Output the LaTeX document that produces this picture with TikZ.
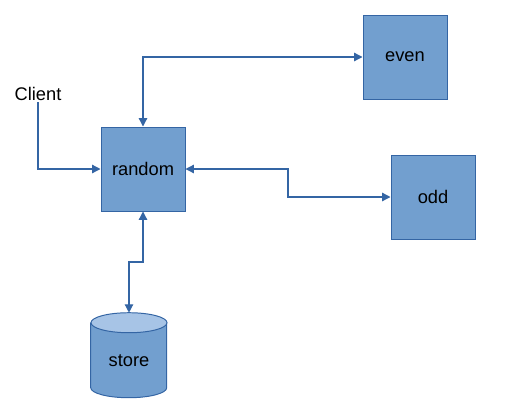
\documentclass[tikz,border=0pt]{standalone}
\usepackage{fontspec}
\setmainfont{Liberation Sans}
\usetikzlibrary{arrows.meta,calc}
\definecolor{boxfill}{HTML}{729FCF}
\definecolor{boxline}{HTML}{3465A4}
\definecolor{topfill}{HTML}{A7C4E6}

\begin{document}
\begin{tikzpicture}[x=0.025cm, y=-0.025cm, every node/.style={font=\fontsize{13}{15}\selectfont},
	svc/.style={draw=boxline, fill=boxfill, line width=0.7pt, minimum size=84*0.025cm, inner sep=0pt},
	db/.style={minimum width=76*0.025cm, minimum height=85*0.025cm, inner sep=0pt},
	link/.style={draw=boxline, line width=0.9pt, {Triangle[length=6pt,width=6pt]}-{Triangle[length=6pt,width=6pt]}},
	onelink/.style={draw=boxline, line width=0.9pt, -{Triangle[length=6pt,width=6pt]}}]
	\useasboundingbox (0,0) rectangle (507,408);
	\node[svc] (random) at (143,169) {random};
	\node[svc] (even) at (405,57) {even};
	\node[svc] (odd) at (433,197) {odd};
	\node[db] (store) at (129,355.5) {};
	\path[fill=boxfill] (store.north west) ++(0,10) -- ++(0,65) arc[start angle=180, end angle=360, x radius=0.95cm, y radius=0.25cm] -- ++(0,-65) -- cycle;
	\draw[boxline, line width=0.7pt] (store.north west) ++(0,10) -- ++(0,65) arc[start angle=180, end angle=360, x radius=0.95cm, y radius=0.25cm] -- ++(0,-65);
	\draw[boxline, fill=topfill, line width=0.7pt] ($(store.north)+(0,10)$) ellipse[x radius=0.95cm, y radius=0.25cm];
	\node (storetext) at ($(store.center)+(0,5)$) {store};
	\node[inner sep=1pt] (client) at (38,94) {Client};
	\coordinate (oddbend) at ($(random.east)!0.5!(odd.west)$);
	\coordinate (storebend) at ($(random.south)!0.5!(store.north)$);
	\draw[onelink] (client.south) |- (random.west);
	\draw[link] (random.north) |- (even.west);
	\draw[link] (random.east) -| (oddbend) |- (odd.west);
	\draw[link] (random.south) |- (storebend) -| (store.north);
\end{tikzpicture}
\end{document}
